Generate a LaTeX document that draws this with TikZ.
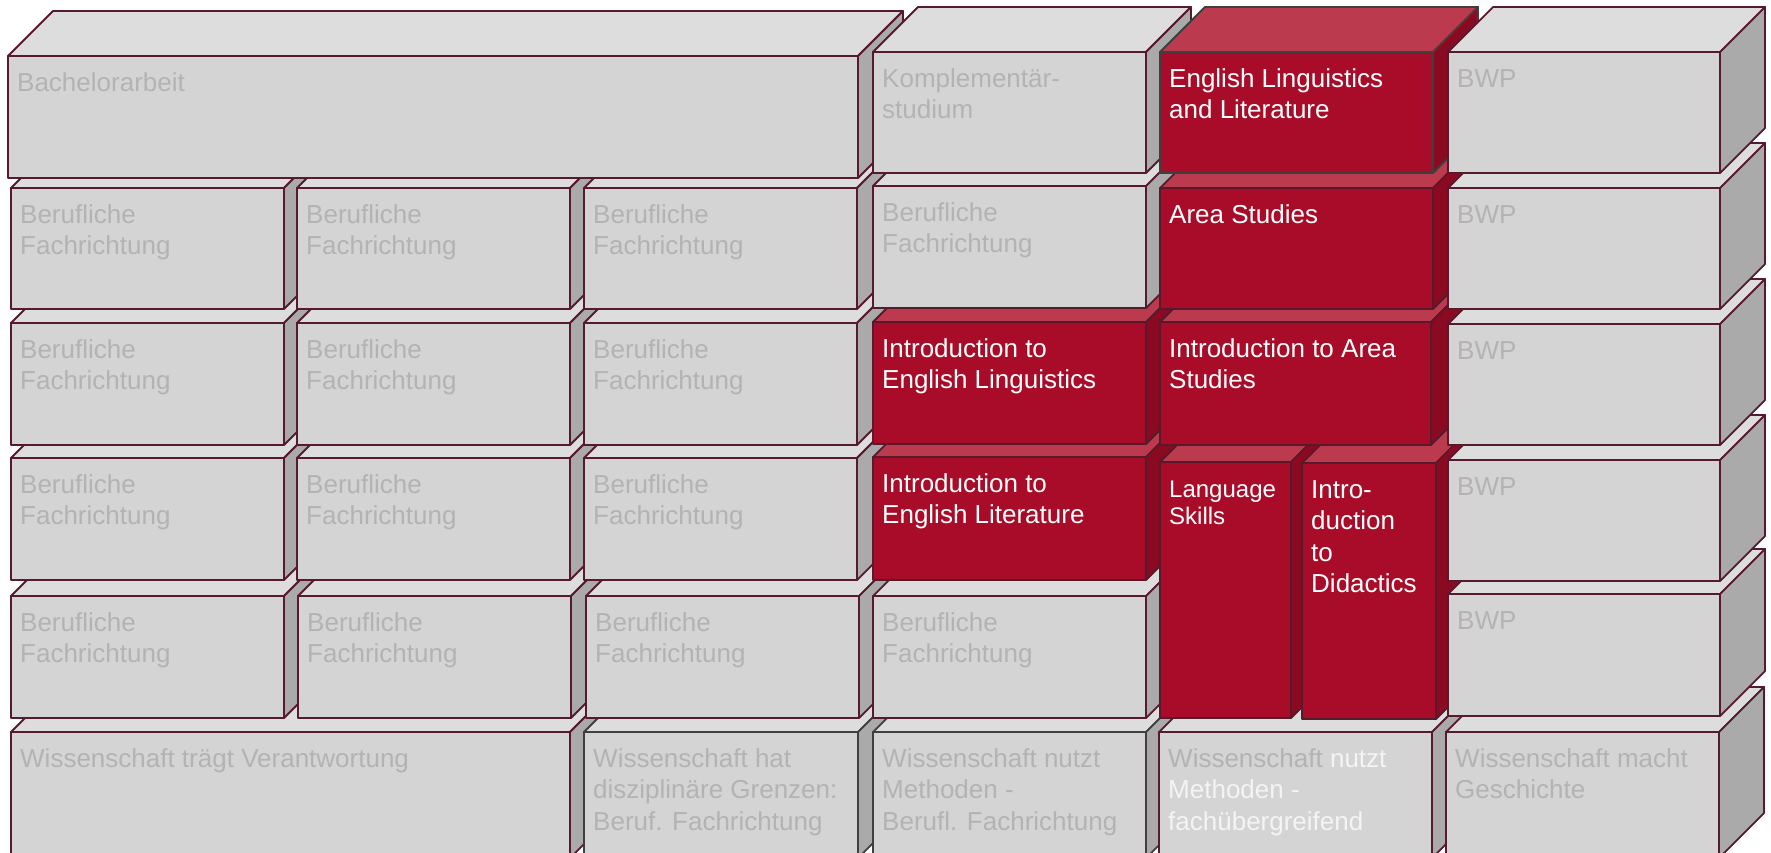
\documentclass[tikz,border=0pt]{standalone}
\usepackage{fontspec}
\setmainfont{Liberation Sans}
\definecolor{wine}{HTML}{561A2C}
\definecolor{darkedge}{HTML}{3F3F3F}
\definecolor{gfrontc}{HTML}{D4D4D4}
\definecolor{gtopc}{HTML}{DDDDDD}
\definecolor{gsidec}{HTML}{AAAAAA}
\definecolor{gtextc}{HTML}{B3B3B3}
\definecolor{rfrontc}{HTML}{A80C28}
\definecolor{rtopc}{HTML}{BB3A4E}
\definecolor{rsidec}{HTML}{8A0B21}
\definecolor{wtextc}{HTML}{F4F4F4}
\tikzset{
  edge/.style={draw=wine, line width=1.8pt, line join=round},
  gtop/.style={edge, fill=gtopc},
  gside/.style={edge, fill=gsidec},
  gfront/.style={edge, fill=gfrontc},
  rtop/.style={edge, fill=rtopc},
  rside/.style={edge, fill=rsidec},
  rfront/.style={edge, fill=rfrontc},
  label/.style={anchor=north west, align=left, inner sep=0pt, font=\fontsize{26}{31.5}\selectfont},
  gtext/.style={label, text=gtextc},
  rtext/.style={label, text=white},
  smalltext/.style={font=\fontsize{24}{27}\selectfont},
}
% #1 name, #2 x1, #3 y1, #4 x2, #5 y2, #6 scheme (g/r), #7 text, #8 face options, #9 node options
\newcommand{\cube}[9]{%
  \filldraw[#6top,#8] (#2,#3) -- (#2+45,#3-45) -- (#4+45,#3-45) -- (#4,#3) -- cycle;
  \filldraw[#6side,#8] (#4,#3) -- (#4+45,#3-45) -- (#4+45,#5-45) -- (#4,#5) -- cycle;
  \filldraw[#6front,#8] (#2,#3) rectangle (#4,#5);
  \node[#6text,#9] (#1) at (#2+9,#3+11) {\rule{0pt}{24pt}#7};
}
\newcommand{\BF}{Berufliche\\Fachrichtung}
\begin{document}
\begin{tikzpicture}[x=1pt,y=-1pt]
\useasboundingbox (0,0) rectangle (1771,852);
\fill[white] (0,0) rectangle (1771,852);
% row 6
\cube{w1}{11}{732}{570}{858}{g}{Wissenschaft trägt Verantwortung}{}{}
\cube{w2}{584}{732}{858}{858}{g}{Wissenschaft hat\\disziplinäre Grenzen:\\Beruf. Fachrichtung}{draw=darkedge}{}
\cube{w3}{873}{732}{1146}{858}{g}{Wissenschaft nutzt\\Methoden -\\Berufl. Fachrichtung}{draw=darkedge}{}
\cube{w4}{1159}{732}{1432}{858}{g}{Wissenschaft \textcolor{wtextc}{nutzt}\\\textcolor{wtextc}{Methoden -}\\\textcolor{wtextc}{fachübergreifend}}{}{}
\cube{w5}{1446}{732}{1719}{858}{g}{Wissenschaft macht\\Geschichte}{}{}
% row 5
\cube{r5c1}{11}{596}{284}{718}{g}{\BF}{}{}
\cube{r5c2}{298}{596}{571}{718}{g}{\BF}{}{}
\cube{r5c3}{586}{596}{859}{718}{g}{\BF}{}{}
\cube{r5c4}{873}{596}{1146}{718}{g}{\BF}{}{}
% row 4
\cube{r4c1}{11}{458}{284}{580}{g}{\BF}{}{}
\cube{r4c2}{297}{458}{570}{580}{g}{\BF}{}{}
\cube{r4c3}{584}{458}{857}{580}{g}{\BF}{}{}
\cube{lit}{873}{457}{1146}{580}{r}{Introduction to\\English Literature}{}{}
\cube{lang}{1160}{462}{1291}{718}{r}{Language\\Skills}{}{smalltext}
\cube{did}{1302}{463}{1436}{719}{r}{Intro-\\duction\\to\\Didactics}{}{}
\cube{bwp5}{1448}{594}{1720}{716}{g}{BWP}{}{}
\cube{bwp4}{1448}{460}{1720}{581}{g}{BWP}{}{}
% row 3
\cube{r3c1}{11}{323}{284}{445}{g}{\BF}{}{}
\cube{r3c2}{297}{323}{570}{445}{g}{\BF}{}{}
\cube{r3c3}{584}{323}{857}{445}{g}{\BF}{}{}
\cube{ling}{873}{322}{1146}{444}{r}{Introduction to\\English Linguistics}{}{}
\cube{iarea}{1160}{322}{1431}{445}{r}{Introduction to Area\\Studies}{}{}
\cube{bwp3}{1448}{324}{1720}{445}{g}{BWP}{}{}
% row 2
\cube{r2c1}{11}{188}{284}{309}{g}{\BF}{}{}
\cube{r2c2}{297}{188}{570}{309}{g}{\BF}{}{}
\cube{r2c3}{584}{188}{857}{309}{g}{\BF}{}{}
\cube{r2c4}{873}{186}{1146}{308}{g}{\BF}{}{}
\cube{area}{1160}{188}{1433}{309}{r}{Area Studies}{}{}
\cube{bwp2}{1448}{188}{1720}{309}{g}{BWP}{}{}
% row 1
\cube{ba}{8}{56}{858}{178}{g}{Bachelorarbeit}{}{}
\cube{komp}{873}{52}{1146}{173}{g}{Komplementär-\\studium}{}{}
\cube{ell}{1160}{52}{1433}{173}{r}{English Linguistics\\and Literature}{draw=darkedge}{}
\cube{bwp1}{1448}{52}{1720}{173}{g}{BWP}{}{}
\end{tikzpicture}
\end{document}
